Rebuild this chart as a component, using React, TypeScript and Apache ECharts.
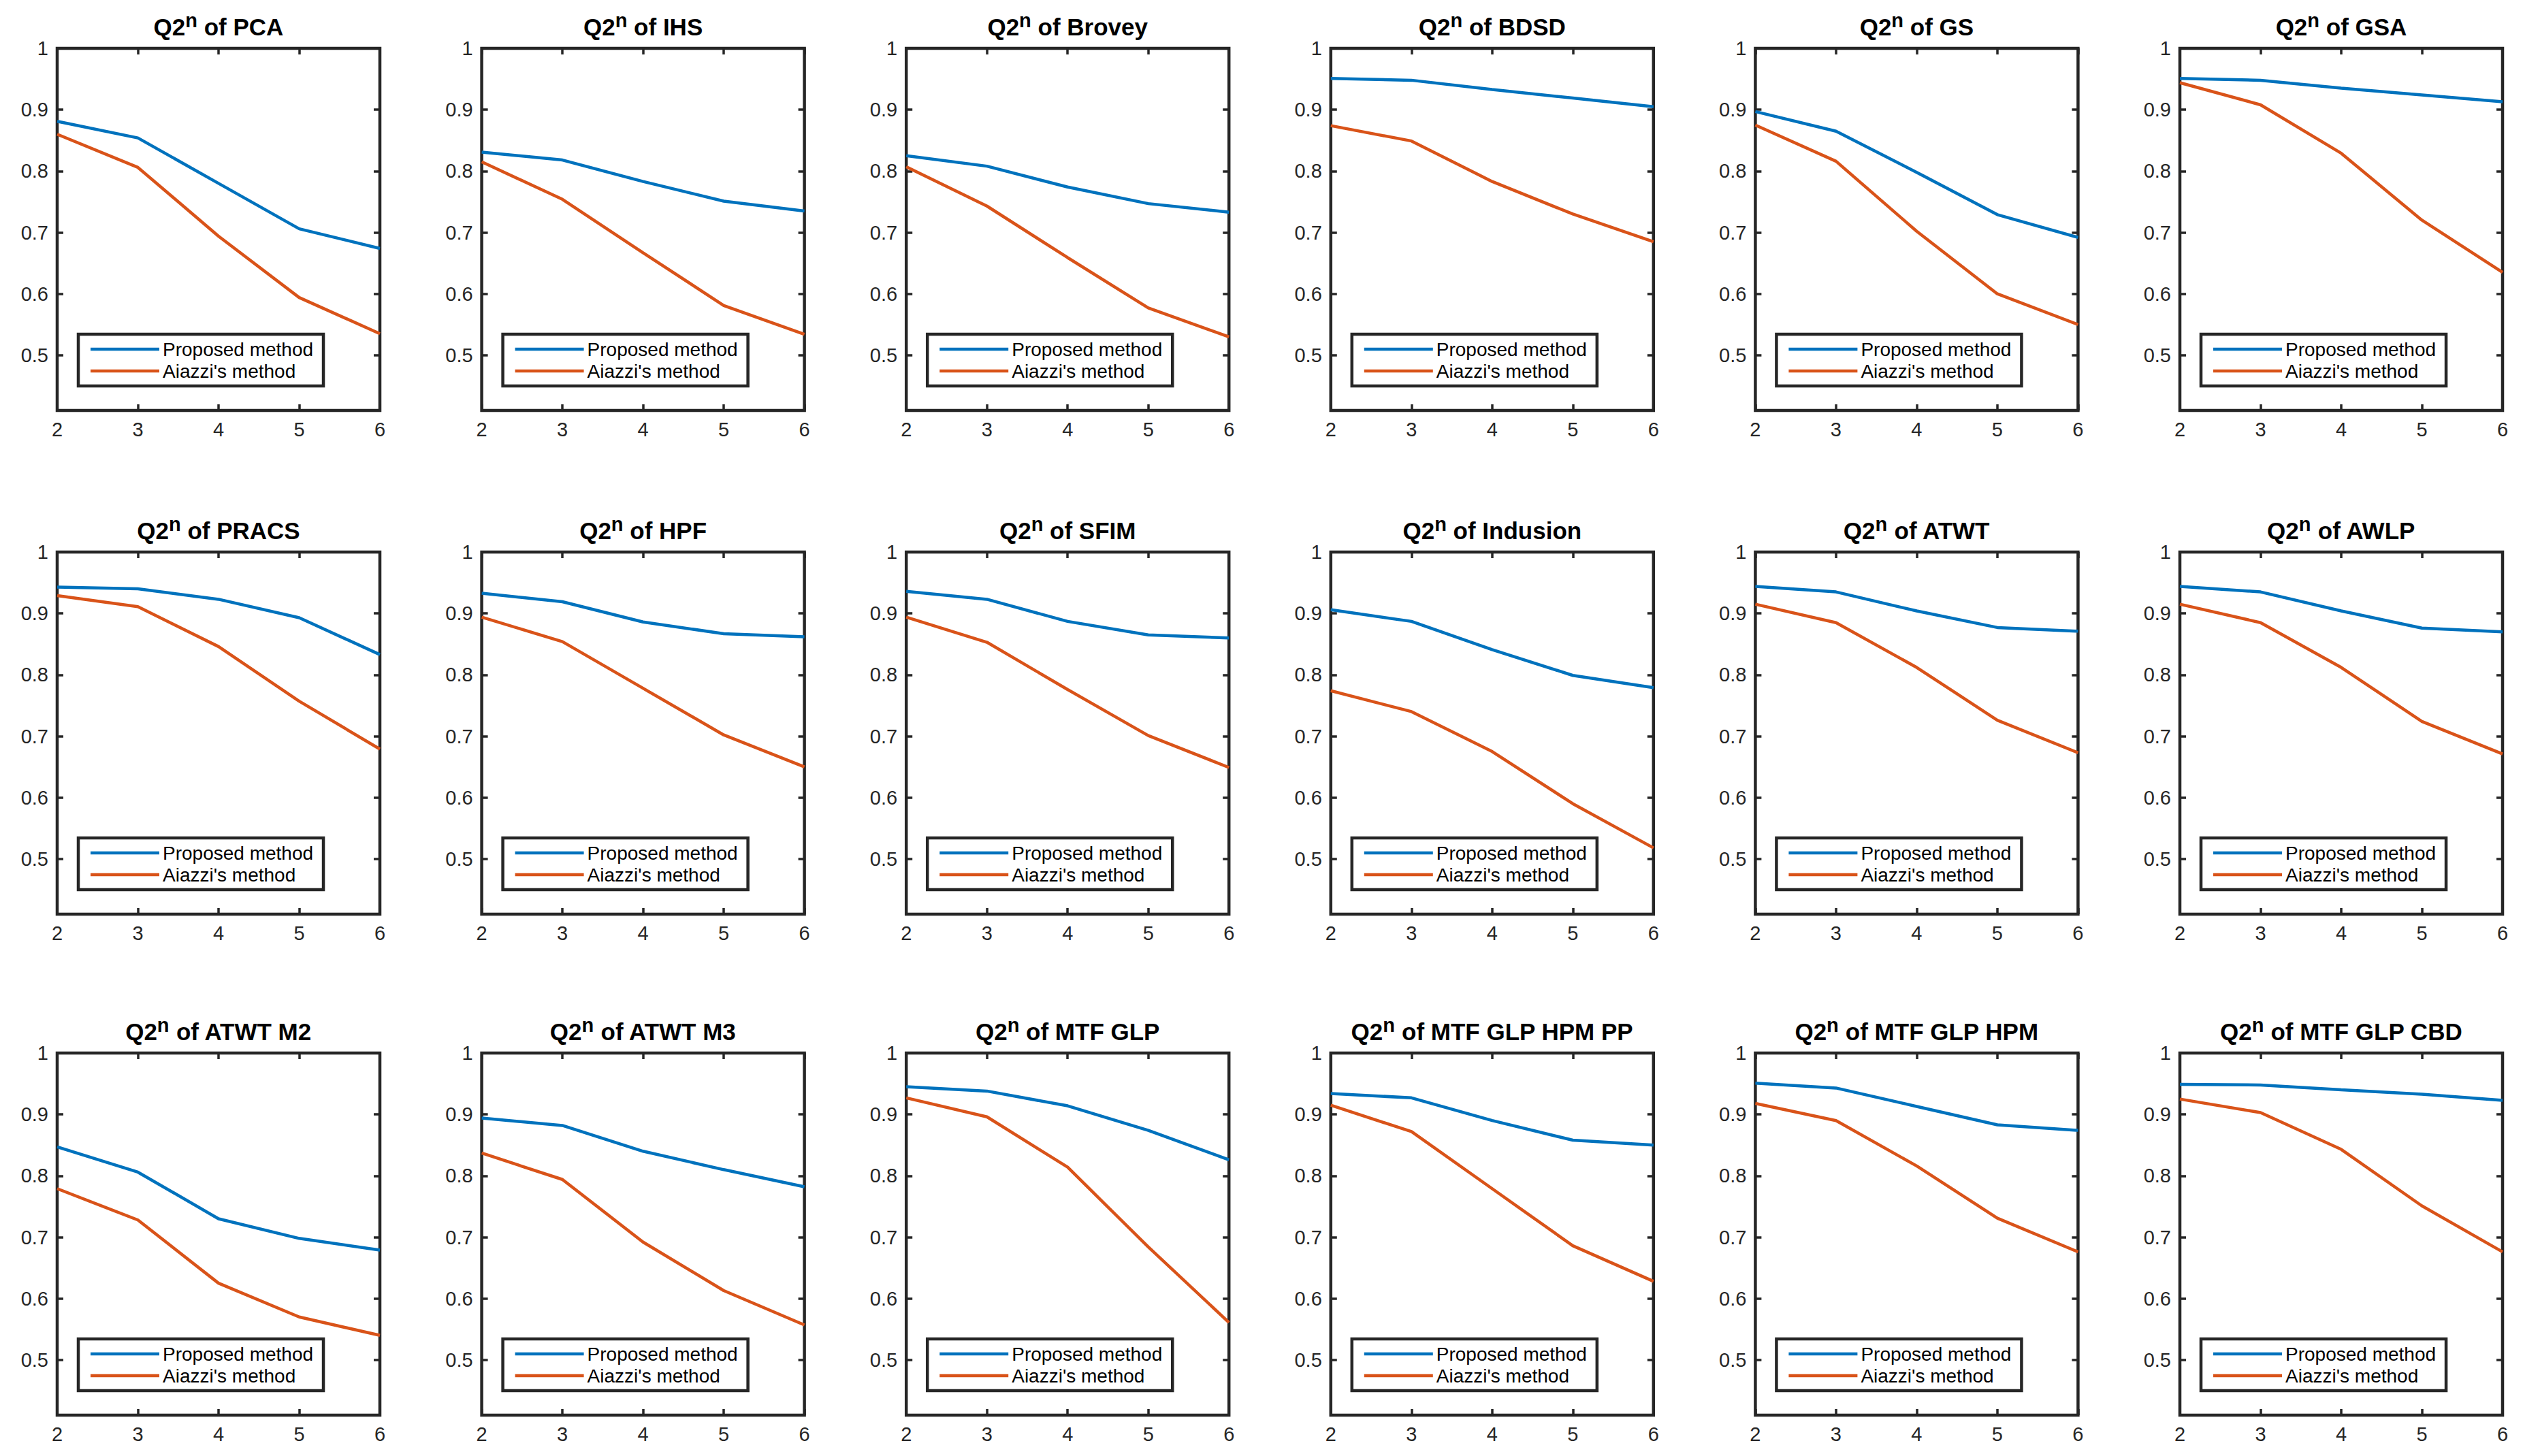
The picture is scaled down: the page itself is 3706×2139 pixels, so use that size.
import React, { useEffect, useRef } from "react";
import * as echarts from "echarts";

// ---- data ----
const xValues = [2, 3, 4, 5, 6];
const yTickValues = [0.5, 0.6, 0.7, 0.8, 0.9, 1];
const yMin = 0.41;
const yMax = 1;
const seriesNames = ["Proposed method", "Aiazzi's method"];

const methodNames = [
  "PCA", "IHS", "Brovey", "BDSD", "GS", "GSA",
  "PRACS", "HPF", "SFIM", "Indusion", "ATWT", "AWLP",
  "ATWT M2", "ATWT M3", "MTF GLP", "MTF GLP HPM PP", "MTF GLP HPM", "MTF GLP CBD",
];

const proposedQ2n = [
  [0.881, 0.854, 0.780, 0.706, 0.674],
  [0.831, 0.818, 0.783, 0.751, 0.735],
  [0.825, 0.808, 0.774, 0.747, 0.733],
  [0.951, 0.948, 0.933, 0.919, 0.905],
  [0.897, 0.865, 0.798, 0.729, 0.692],
  [0.951, 0.948, 0.935, 0.924, 0.913],
  [0.943, 0.940, 0.923, 0.893, 0.833],
  [0.933, 0.919, 0.886, 0.867, 0.862],
  [0.936, 0.923, 0.887, 0.865, 0.860],
  [0.906, 0.887, 0.841, 0.799, 0.779],
  [0.944, 0.935, 0.904, 0.877, 0.871],
  [0.944, 0.935, 0.904, 0.876, 0.870],
  [0.847, 0.806, 0.730, 0.698, 0.679],
  [0.894, 0.882, 0.840, 0.810, 0.782],
  [0.945, 0.938, 0.914, 0.874, 0.826],
  [0.934, 0.927, 0.890, 0.858, 0.850],
  [0.951, 0.943, 0.913, 0.883, 0.874],
  [0.949, 0.948, 0.940, 0.933, 0.923],
];

const aiazziQ2n = [
  [0.860, 0.806, 0.694, 0.594, 0.535],
  [0.815, 0.754, 0.667, 0.581, 0.534],
  [0.807, 0.743, 0.659, 0.577, 0.530],
  [0.874, 0.849, 0.783, 0.730, 0.685],
  [0.875, 0.816, 0.702, 0.600, 0.550],
  [0.944, 0.908, 0.829, 0.720, 0.635],
  [0.929, 0.911, 0.846, 0.757, 0.679],
  [0.894, 0.854, 0.778, 0.702, 0.650],
  [0.894, 0.853, 0.776, 0.701, 0.649],
  [0.774, 0.740, 0.675, 0.590, 0.518],
  [0.915, 0.885, 0.812, 0.726, 0.673],
  [0.915, 0.885, 0.812, 0.724, 0.671],
  [0.779, 0.728, 0.625, 0.570, 0.540],
  [0.837, 0.794, 0.692, 0.613, 0.557],
  [0.927, 0.896, 0.814, 0.684, 0.561],
  [0.915, 0.872, 0.779, 0.686, 0.628],
  [0.918, 0.890, 0.816, 0.731, 0.676],
  [0.925, 0.903, 0.843, 0.751, 0.676],
];

// ---- style ----
const COLORS = ["#0072BD", "#D95319"];
const AXIS = "#262626";
const FONT = "'Liberation Sans', Arial, Helvetica, sans-serif";
const COL_LEFT0 = 84;
const COL_STEP = 623.6;
const GRID_W = 474;
const GRID_H = 532;
const ROW_TOPS = [71, 811, 1547];

export default function App() {
  const ref = useRef<HTMLDivElement>(null);

  useEffect(() => {
    if (!ref.current) return;
    const chart = echarts.init(ref.current, null, { renderer: "svg" });

    const grid: any[] = [];
    const xAxis: any[] = [];
    const yAxis: any[] = [];
    const series: any[] = [];
    const legend: any[] = [];
    const graphic: any[] = [];

    const tickStyle = { inside: true, length: 9, lineStyle: { color: AXIS, width: 3.5 } };
    const labelStyle = { color: AXIS, fontSize: 29, fontFamily: FONT, margin: 13 };

    methodNames.forEach((name, g) => {
      const col = g % 6;
      const row = Math.floor(g / 6);
      const left = COL_LEFT0 + col * COL_STEP;
      const top = ROW_TOPS[row];

      grid.push({
        left, top, width: GRID_W, height: GRID_H,
        show: true, borderWidth: 4.5, borderColor: AXIS, backgroundColor: "#fff",
      });

      const xBase = {
        gridIndex: g, type: "value", min: 2, max: 6, interval: 1,
        axisLine: { show: false }, splitLine: { show: false }, axisTick: tickStyle,
      };
      xAxis.push({ ...xBase, position: "bottom",
        axisLabel: { ...labelStyle, showMinLabel: true, showMaxLabel: true } });
      xAxis.push({ ...xBase, position: "top", axisLabel: { show: false } });

      const yBase = {
        gridIndex: g, type: "value", min: yMin, max: yMax,
        axisLine: { show: false }, splitLine: { show: false },
        axisTick: { ...tickStyle, customValues: yTickValues },
      };
      yAxis.push({ ...yBase, position: "left",
        axisLabel: { ...labelStyle, customValues: yTickValues } });
      yAxis.push({ ...yBase, position: "right", axisLabel: { show: false } });

      [proposedQ2n[g], aiazziQ2n[g]].forEach((vals, k) => {
        series.push({
          type: "line", name: seriesNames[k],
          xAxisIndex: 2 * g, yAxisIndex: 2 * g,
          data: xValues.map((x, i) => [x, vals[i]]),
          symbol: "none", showSymbol: false,
          lineStyle: { width: 4.5, color: COLORS[k] },
          itemStyle: { color: COLORS[k] },
          z: 3,
        });
      });

      legend.push({
        left: left + 31, top: top + 420,
        orient: "vertical",
        data: seriesNames.map((n) => ({ name: n, icon: "rect" })),
        selectedMode: false,
        borderColor: AXIS, borderWidth: 4.5, backgroundColor: "#fff",
        padding: [8, 15, 8, 18],
        itemWidth: 101, itemHeight: 4.5, itemGap: 4,
        itemStyle: { borderWidth: 0 },
        textStyle: { fontSize: 28, fontFamily: FONT, color: "#000" },
        z: 10,
      });

      graphic.push({
        type: "text",
        x: left + GRID_W / 2,
        y: top - 56,
        z: 20,
        style: {
          text: `{b|Q2}{s|n}{b| of ${name}}`,
          align: "center",
          verticalAlign: "top",
          rich: {
            b: { fontSize: 35, fontWeight: "bold", fontFamily: FONT, fill: "#000", lineHeight: 42, verticalAlign: "bottom" },
            s: { fontSize: 29, fontWeight: "bold", fontFamily: FONT, fill: "#000", verticalAlign: "top" },
          },
        },
      });
    });

    chart.setOption({
      animation: false,
      backgroundColor: "#fff",
      grid, xAxis, yAxis, series, legend, graphic,
    });

    return () => chart.dispose();
  }, []);

  return (
    <div
      ref={ref}
      style={{ position: "fixed", left: 0, top: 0, width: 3706, height: 2139, background: "#fff" }}
    />
  );
}
